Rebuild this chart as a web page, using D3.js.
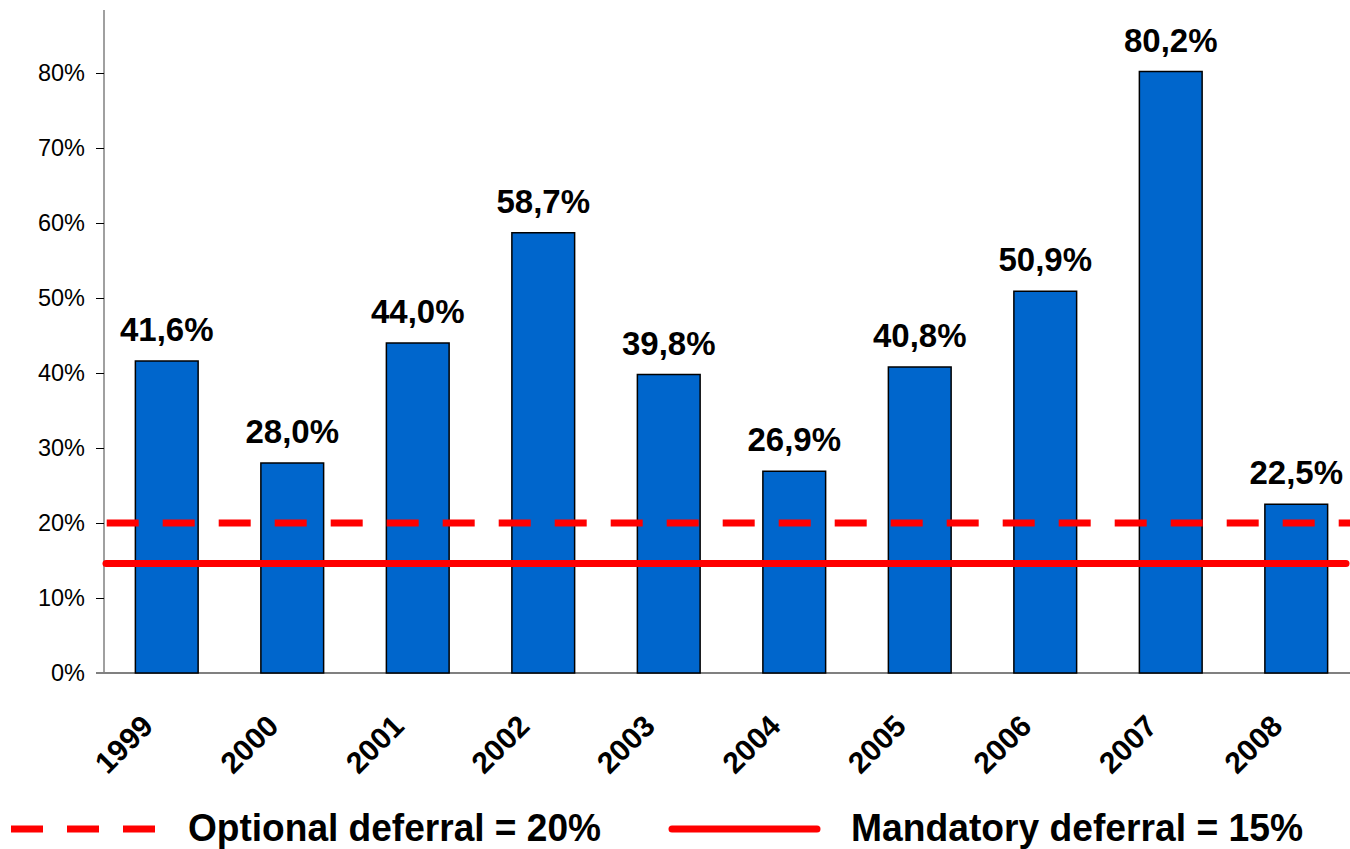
<!DOCTYPE html>
<html>
<head>
<meta charset="utf-8">
<script src="https://cdn.jsdelivr.net/npm/d3@7"></script>
<style>
  body { margin: 0; background: #fff; }
  #chart text { font-family: "Liberation Sans", Arial, sans-serif; }
</style>
</head>
<body>
<div id="chart"></div>
<script>
// data
var years = ["1999", "2000", "2001", "2002", "2003", "2004", "2005", "2006", "2007", "2008"];
var shares = [41.6, 28.0, 44.0, 58.7, 39.8, 26.9, 40.8, 50.9, 80.2, 22.5];
var yTicks = [0, 10, 20, 30, 40, 50, 60, 70, 80];
var optionalLevel = 20;
var mandatoryLevel = 14.6;
var legendLabels = ["Optional deferral = 20%", "Mandatory deferral = 15%"];

var svgWidth = 1350;
var svgHeight = 849;

var margin = { top: 10, right: -9, bottom: 176, left: 104 };
var height = svgHeight - margin.top - margin.bottom;

var svg = d3.select("#chart")
  .append("svg")
  .attr("width", svgWidth)
  .attr("height", svgHeight);

// scales
var x = d3.scaleBand()
  .domain(years)
  .range([margin.left, svgWidth - margin.right])
  .paddingInner(0.5)
  .paddingOuter(0.25);

var y = d3.scaleLinear()
  .domain([0, 88.4])
  .range([margin.top + height, margin.top]);

var fmt = function(v) { return d3.format(".1f")(v).replace(".", ",") + "%"; };

// y axis
var leftAxis = d3.axisLeft(y)
  .tickValues(yTicks)
  .tickSize(8)
  .tickPadding(11)
  .tickFormat(function(d) { return d + "%"; });

var yAxisG = svg.append("g")
  .attr("transform", "translate(" + margin.left + ",0)")
  .call(leftAxis);
yAxisG.select(".domain").attr("stroke", "#808080").attr("stroke-width", 1.5)
  .attr("d", "M0," + y(88.4) + "V" + y(0));
yAxisG.selectAll(".tick line").attr("stroke", "#000").attr("stroke-width", 1);
yAxisG.selectAll(".tick text")
  .attr("font-size", 23.5)
  .attr("fill", "#000");

// x axis line
svg.append("line")
  .attr("x1", margin.left - 8)
  .attr("x2", svgWidth)
  .attr("y1", y(0))
  .attr("y2", y(0))
  .attr("stroke", "#808080")
  .attr("stroke-width", 2);

// bars
svg.selectAll(".bar")
  .data(years)
  .enter()
  .append("rect")
  .attr("class", "bar")
  .attr("x", function(d) { return x(d); })
  .attr("width", x.bandwidth())
  .attr("y", function(d, i) { return y(shares[i]); })
  .attr("height", function(d, i) { return y(0) - y(shares[i]); })
  .attr("fill", "#0066CC")
  .attr("stroke", "#000")
  .attr("stroke-width", 1.5);

// value labels
svg.selectAll(".val")
  .data(years)
  .enter()
  .append("text")
  .attr("class", "val")
  .attr("x", function(d) { return x(d) + x.bandwidth() / 2; })
  .attr("y", function(d, i) { return y(shares[i]) - 20; })
  .attr("text-anchor", "middle")
  .attr("font-size", 33)
  .attr("font-weight", "bold")
  .text(function(d, i) { return fmt(shares[i]); });

// year labels, rotated
svg.selectAll(".year")
  .data(years)
  .enter()
  .append("text")
  .attr("class", "year")
  .attr("transform", function(d) {
    return "translate(" + (x(d) + x.bandwidth() / 2 - 12) + "," + (y(0) + 55) + ") rotate(-45)";
  })
  .attr("text-anchor", "end")
  .attr("font-size", 30)
  .attr("font-weight", "bold")
  .text(function(d) { return d; });

// reference lines
svg.append("line")
  .attr("x1", 106.7)
  .attr("x2", svgWidth)
  .attr("y1", y(optionalLevel))
  .attr("y2", y(optionalLevel))
  .attr("stroke", "#FF0000")
  .attr("stroke-width", 7)
  .attr("stroke-dasharray", "32 24");

svg.append("line")
  .attr("x1", 106)
  .attr("x2", svgWidth - 4)
  .attr("y1", y(mandatoryLevel))
  .attr("y2", y(mandatoryLevel))
  .attr("stroke", "#FF0000")
  .attr("stroke-width", 7)
  .attr("stroke-linecap", "round");

// legend
var legendY = 829;
svg.append("line")
  .attr("x1", 11).attr("x2", 156)
  .attr("y1", legendY).attr("y2", legendY)
  .attr("stroke", "#FF0000")
  .attr("stroke-width", 7)
  .attr("stroke-dasharray", "32 24");

svg.append("text")
  .attr("x", 188)
  .attr("y", 841)
  .attr("font-size", 38)
  .attr("font-weight", "bold")
  .attr("textLength", 413)
  .attr("lengthAdjust", "spacingAndGlyphs")
  .text(legendLabels[0]);

svg.append("line")
  .attr("x1", 672).attr("x2", 817)
  .attr("y1", legendY).attr("y2", legendY)
  .attr("stroke", "#FF0000")
  .attr("stroke-width", 7)
  .attr("stroke-linecap", "round");

svg.append("text")
  .attr("x", 851)
  .attr("y", 841)
  .attr("font-size", 38)
  .attr("font-weight", "bold")
  .attr("textLength", 452)
  .attr("lengthAdjust", "spacingAndGlyphs")
  .text(legendLabels[1]);
</script>
</body>
</html>
